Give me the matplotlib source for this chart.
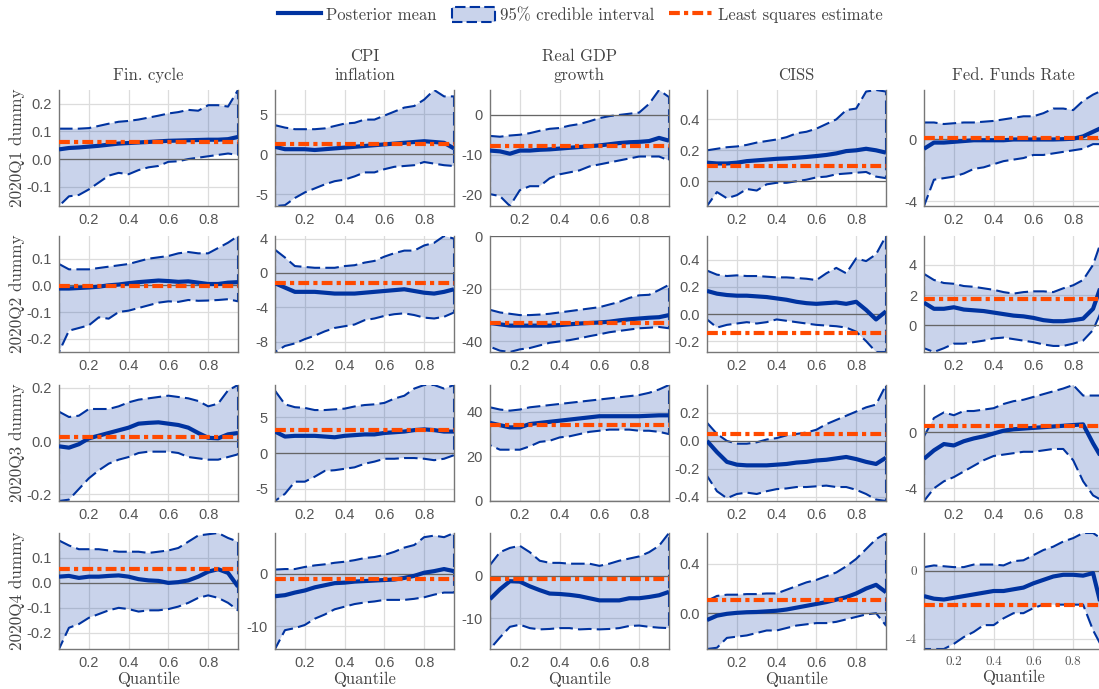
import numpy as np
import matplotlib
matplotlib.use('Agg')
import matplotlib.pyplot as plt
from matplotlib.lines import Line2D
from matplotlib.patches import Patch

quantiles = [0.05, 0.10, 0.15, 0.20, 0.25, 0.30, 0.35, 0.40, 0.45, 0.50,
             0.55, 0.60, 0.65, 0.70, 0.75, 0.80, 0.85, 0.90, 0.95]

titles = ['Fin. cycle', 'CPI\ninflation', 'Real GDP\ngrowth', 'CISS', 'Fed. Funds Rate']
rows = ['2020Q1 dummy', '2020Q2 dummy', '2020Q3 dummy', '2020Q4 dummy']

# Fin. cycle: posterior mean, 95% band, least squares (one list per quarter)
fin_mean = [
    [0.035, 0.04, 0.042, 0.045, 0.048, 0.052, 0.056, 0.058, 0.06, 0.062, 0.064, 0.066, 0.067, 0.068, 0.069, 0.07, 0.07, 0.072, 0.08],
    [-0.012, -0.012, -0.01, -0.008, -0.005, 0.0, 0.003, 0.008, 0.012, 0.015, 0.018, 0.016, 0.013, 0.015, 0.01, 0.005, 0.005, 0.01, 0.012],
    [-0.02, -0.025, -0.012, 0.01, 0.02, 0.03, 0.04, 0.05, 0.065, 0.068, 0.07, 0.065, 0.06, 0.05, 0.03, 0.012, 0.01, 0.025, 0.03],
    [0.025, 0.028, 0.02, 0.025, 0.025, 0.028, 0.03, 0.025, 0.015, 0.01, 0.008, 0.0, 0.003, 0.01, 0.025, 0.045, 0.055, 0.04, -0.015],
]
fin_hi = [
    [0.11, 0.11, 0.11, 0.112, 0.12, 0.128, 0.135, 0.138, 0.143, 0.15, 0.157, 0.165, 0.17, 0.178, 0.175, 0.195, 0.195, 0.19, 0.25],
    [0.08, 0.06, 0.06, 0.06, 0.065, 0.07, 0.075, 0.08, 0.09, 0.1, 0.105, 0.11, 0.12, 0.125, 0.12, 0.12, 0.14, 0.16, 0.185],
    [0.11, 0.09, 0.095, 0.12, 0.12, 0.12, 0.13, 0.145, 0.155, 0.16, 0.165, 0.17, 0.165, 0.16, 0.15, 0.13, 0.14, 0.19, 0.21],
    [0.17, 0.15, 0.135, 0.135, 0.135, 0.13, 0.125, 0.125, 0.125, 0.12, 0.125, 0.13, 0.14, 0.165, 0.19, 0.195, 0.2, 0.18, 0.165],
]
fin_lo = [
    [-0.17, -0.135, -0.13, -0.11, -0.085, -0.06, -0.05, -0.055, -0.04, -0.03, -0.025, -0.01, -0.008, 0.0, 0.005, 0.01, 0.015, 0.02, 0.015],
    [-0.25, -0.17, -0.16, -0.15, -0.12, -0.125, -0.1, -0.095, -0.085, -0.075, -0.065, -0.06, -0.062, -0.055, -0.058, -0.057, -0.055, -0.052, -0.06],
    [-0.225, -0.22, -0.18, -0.14, -0.11, -0.085, -0.07, -0.06, -0.045, -0.04, -0.04, -0.04, -0.045, -0.06, -0.065, -0.07, -0.07, -0.06, -0.05],
    [-0.265, -0.18, -0.165, -0.14, -0.125, -0.11, -0.1, -0.105, -0.115, -0.11, -0.11, -0.105, -0.095, -0.08, -0.06, -0.05, -0.06, -0.08, -0.11],
]
fin_ls = [0.063, -0.003, 0.015, 0.055]

cpi_mean = [
    [0.9, 0.6, 0.6, 0.6, 0.5, 0.6, 0.7, 0.8, 0.9, 1.0, 1.1, 1.2, 1.3, 1.4, 1.5, 1.6, 1.5, 1.4, 0.7],
    [-1.2, -1.7, -2.2, -2.2, -2.2, -2.3, -2.4, -2.4, -2.4, -2.3, -2.2, -2.1, -2.0, -1.9, -2.1, -2.3, -2.4, -2.2, -1.9],
    [3.0, 2.3, 2.4, 2.4, 2.4, 2.3, 2.2, 2.4, 2.5, 2.6, 2.6, 2.8, 2.9, 3.0, 3.2, 3.3, 3.2, 3.0, 3.0],
    [-4.3, -4.1, -3.6, -3.2, -2.6, -2.2, -1.8, -1.7, -1.5, -1.4, -1.3, -1.2, -1.1, -0.8, -0.4, 0.2, 0.5, 0.9, 0.5],
]
cpi_hi = [
    [3.6, 3.3, 3.1, 3.1, 3.1, 3.2, 3.5, 3.8, 3.9, 4.3, 4.3, 4.8, 5.3, 5.8, 6.0, 6.8, 8.0, 7.2, 7.2],
    [2.7, 1.8, 0.8, 0.7, 0.6, 0.6, 0.6, 0.8, 0.9, 1.2, 1.4, 1.9, 2.3, 2.6, 2.6, 3.2, 3.5, 4.3, 4.0],
    [8.7, 6.8, 6.4, 6.3, 6.0, 6.0, 6.1, 6.2, 6.5, 6.7, 6.8, 7.0, 7.6, 8.0, 9.0, 9.5, 9.5, 9.0, 9.5],
    [0.8, 0.9, 0.9, 1.3, 1.6, 1.8, 2.1, 2.3, 2.6, 3.0, 3.2, 3.6, 4.2, 5.0, 5.5, 7.0, 7.3, 7.0, 7.8],
]
cpi_lo = [
    [-6.5, -6.4, -5.5, -4.8, -4.3, -3.8, -3.4, -3.2, -2.8, -2.3, -2.3, -1.9, -1.6, -1.5, -1.4, -1.0, -1.2, -1.4, -1.5],
    [-9.2, -8.5, -8.2, -7.7, -7.3, -6.8, -6.4, -6.2, -6.0, -5.5, -5.3, -5.0, -4.8, -4.7, -4.9, -5.2, -5.3, -5.1, -4.6],
    [-6.7, -5.7, -4.0, -4.0, -3.3, -2.5, -2.4, -2.2, -2.0, -1.5, -1.2, -0.8, -0.8, -0.7, -0.7, -0.8, -1.0, -0.8, -0.3],
    [-14.4, -10.8, -10.4, -9.8, -8.6, -7.8, -6.8, -6.3, -5.8, -5.5, -5.3, -5.0, -5.0, -5.0, -4.8, -4.5, -4.0, -3.6, -3.6],
]
cpi_ls = [1.3, -1.2, 3.2, -1.0]

gdp_mean = [
    [-9.0, -9.2, -9.8, -9.0, -9.0, -8.8, -8.7, -8.5, -8.3, -8.1, -7.9, -7.7, -7.4, -7.1, -6.9, -6.8, -6.6, -5.8, -6.5],
    [-33, -33.5, -34, -34, -34, -34, -34, -33.8, -33.5, -33.2, -33, -32.8, -32.5, -32, -31.6, -31.3, -31, -30.8, -30],
    [35, 34, 33, 33, 34.5, 35, 35.5, 36, 36.5, 37, 37.5, 38, 38, 38, 38, 38, 38.2, 38.4, 38.4],
    [-5.5, -3.2, -1.3, -1.4, -2.5, -3.4, -4.2, -4.3, -4.5, -4.8, -5.3, -5.8, -5.8, -5.8, -5.3, -5.3, -5.0, -4.6, -3.8],
]
gdp_hi = [
    [-5.3, -5.5, -5.2, -5.0, -4.6, -4.0, -3.5, -3.3, -2.7, -2.3, -1.6, -0.8, -0.3, 0.0, 0.3, 0.6, 2.8, 6.3, 4.5],
    [-28, -29, -29.5, -30, -30, -29.8, -29.5, -29, -28.5, -28, -27.5, -27, -26, -25, -23.5, -22.5, -22.3, -20.5, -18.5],
    [42, 41, 40.5, 41, 42, 42.5, 43, 43.5, 44, 44.5, 45, 45.5, 46, 46.5, 47, 47.5, 48.5, 50, 52],
    [2.5, 5.5, 6.5, 7.0, 5.5, 3.5, 3.0, 3.0, 2.8, 2.8, 2.8, 2.3, 2.8, 3.5, 4.0, 4.5, 5.5, 7.0, 10.0],
]
gdp_lo = [
    [-20, -20.5, -23, -19, -18, -18, -16, -15, -14.5, -14, -13, -12.5, -12, -11.5, -11, -10.5, -10.5, -10.5, -11.5],
    [-42, -43.5, -44, -43, -42.5, -41.5, -40.5, -40, -39.5, -38.8, -38, -37.3, -36.5, -36, -35.5, -35, -34.8, -34.5, -35],
    [25, 23, 23, 23, 24.5, 26.5, 27, 28.5, 29, 30, 31, 31.5, 32, 32, 32, 31.5, 31.5, 31, 30],
    [-17.2, -14.5, -12.0, -11.5, -12.3, -12.6, -12.5, -12.3, -12.3, -12.6, -12.5, -12.6, -12.5, -12.3, -11.8, -11.7, -12.0, -12.2, -12.3],
]
gdp_ls = [-7.8, -33, 34, -0.8]

ciss_mean = [
    [0.12, 0.115, 0.115, 0.12, 0.13, 0.135, 0.14, 0.145, 0.148, 0.152, 0.157, 0.163, 0.17, 0.18, 0.195, 0.2, 0.21, 0.2, 0.185],
    [0.17, 0.15, 0.14, 0.135, 0.135, 0.13, 0.125, 0.115, 0.105, 0.09, 0.08, 0.075, 0.08, 0.085, 0.075, 0.09, 0.03, -0.04, 0.02],
    [0.0, -0.08, -0.15, -0.17, -0.175, -0.175, -0.175, -0.17, -0.165, -0.155, -0.15, -0.14, -0.135, -0.125, -0.115, -0.13, -0.15, -0.165, -0.12],
    [-0.055, -0.02, -0.005, 0.003, 0.008, 0.01, 0.015, 0.02, 0.03, 0.045, 0.06, 0.075, 0.09, 0.11, 0.13, 0.16, 0.2, 0.23, 0.17],
]
ciss_hi = [
    [0.2, 0.21, 0.22, 0.225, 0.235, 0.25, 0.26, 0.27, 0.285, 0.31, 0.32, 0.34, 0.37, 0.4, 0.46, 0.47, 0.58, 0.59, 0.58],
    [0.32, 0.29, 0.28, 0.285, 0.28, 0.28, 0.275, 0.27, 0.27, 0.265, 0.26, 0.25, 0.3, 0.34, 0.3, 0.41, 0.39, 0.44, 0.575],
    [0.13, 0.05, 0.0, -0.02, -0.02, -0.01, 0.01, 0.02, 0.04, 0.05, 0.06, 0.08, 0.12, 0.15, 0.18, 0.21, 0.24, 0.26, 0.4],
    [0.1, 0.14, 0.15, 0.15, 0.155, 0.155, 0.16, 0.16, 0.19, 0.22, 0.25, 0.27, 0.3, 0.33, 0.38, 0.44, 0.52, 0.6, 0.65],
]
ciss_lo = [
    [-0.16, -0.07, -0.11, -0.09, -0.05, -0.06, -0.02, -0.01, -0.01, 0.0, 0.01, 0.025, 0.03, 0.045, 0.05, 0.055, 0.06, 0.03, 0.02],
    [-0.04, -0.1, -0.08, -0.07, -0.06, -0.07, -0.06, -0.04, -0.05, -0.06, -0.07, -0.08, -0.085, -0.09, -0.1, -0.13, -0.2, -0.28, -0.28],
    [-0.25, -0.36, -0.41, -0.38, -0.37, -0.38, -0.36, -0.345, -0.34, -0.33, -0.33, -0.325, -0.32, -0.33, -0.33, -0.35, -0.38, -0.42, -0.43],
    [-0.29, -0.28, -0.2, -0.19, -0.18, -0.16, -0.14, -0.14, -0.12, -0.1, -0.09, -0.08, -0.08, -0.07, -0.05, -0.03, -0.01, 0.0, -0.1],
]
ciss_ls = [0.1, -0.14, 0.05, 0.11]

ffr_mean = [
    [-0.6, -0.2, -0.2, -0.15, -0.1, -0.05, -0.05, -0.05, -0.05, 0.0, 0.0, 0.0, 0.0, 0.0, 0.02, 0.05, 0.2, 0.5, 0.8],
    [1.5, 1.1, 1.1, 1.2, 1.05, 1.0, 0.95, 0.85, 0.75, 0.65, 0.6, 0.5, 0.35, 0.28, 0.28, 0.35, 0.45, 1.1, 3.0],
    [-1.9, -1.3, -0.85, -0.95, -0.65, -0.45, -0.3, -0.1, 0.1, 0.2, 0.25, 0.3, 0.35, 0.4, 0.45, 0.5, 0.55, -0.8, -2.0],
    [-1.5, -1.65, -1.7, -1.6, -1.5, -1.4, -1.3, -1.2, -1.2, -1.1, -1.0, -0.75, -0.55, -0.35, -0.25, -0.25, -0.3, -0.15, -2.5],
]
ffr_hi = [
    [1.1, 1.1, 1.0, 1.05, 1.1, 1.1, 1.15, 1.2, 1.3, 1.4, 1.5, 1.5, 1.7, 2.0, 2.0, 1.9, 2.5, 2.9, 3.2],
    [3.4, 3.0, 2.8, 2.75, 2.6, 2.55, 2.45, 2.35, 2.2, 2.1, 2.2, 2.25, 2.25, 2.2, 2.45, 2.65, 3.0, 4.0, 5.9],
    [-0.3, 1.0, 1.4, 1.2, 1.5, 1.5, 1.6, 1.7, 2.0, 2.2, 2.3, 2.5, 2.7, 2.9, 3.1, 3.35, 2.6, 2.6, 2.6],
    [0.2, 0.3, 0.25, 0.2, 0.2, 0.35, 0.35, 0.35, 0.3, 0.55, 0.6, 0.9, 1.2, 1.4, 1.7, 1.9, 2.2, 2.2, 1.8],
]
ffr_lo = [
    [-4.3, -2.6, -2.5, -2.4, -2.2, -1.9, -1.8, -1.6, -1.4, -1.3, -1.2, -1.0, -1.0, -0.9, -0.8, -0.7, -0.6, -0.3, -0.3],
    [-1.5, -1.75, -1.5, -1.2, -1.2, -1.1, -1.0, -0.85, -0.8, -0.9, -1.0, -1.1, -1.25, -1.35, -1.35, -1.2, -1.0, -0.3, 1.2],
    [-4.9, -4.0, -3.5, -3.2, -2.8, -2.4, -2.0, -1.7, -1.6, -1.5, -1.4, -1.4, -1.3, -1.2, -1.2, -2.0, -3.5, -4.5, -4.9],
    [-4.6, -4.6, -4.6, -4.3, -3.9, -3.6, -3.2, -3.2, -2.8, -2.5, -2.5, -2.2, -2.0, -2.0, -2.0, -2.0, -2.0, -3.5, -4.6],
]
ffr_ls = [0.1, 1.75, 0.4, -2.0]

# y tick positions, row by row
yticks = [
    [[-0.1, 0, 0.1, 0.2], [-5, 0, 5], [-20, -10, 0], [0, 0.2, 0.4], [-4, 0]],
    [[-0.2, -0.1, 0, 0.1], [-8, -4, 0, 4], [-40, -20, 0], [-0.2, 0, 0.2, 0.4], [0, 2, 4]],
    [[-0.2, 0, 0.2], [-5, 0, 5], [0, 20, 40], [-0.4, -0.2, 0, 0.2], [-4, 0]],
    [[-0.2, -0.1, 0, 0.1], [-10, 0], [-10, 0], [0, 0.4], [-4, 0]],
]
xticks = [0.2, 0.4, 0.6, 0.8]

cols = [
    (fin_mean, fin_lo, fin_hi, fin_ls),
    (cpi_mean, cpi_lo, cpi_hi, cpi_ls),
    (gdp_mean, gdp_lo, gdp_hi, gdp_ls),
    (ciss_mean, ciss_lo, ciss_hi, ciss_ls),
    (ffr_mean, ffr_lo, ffr_hi, ffr_ls),
]

blue = '#0033a0'
orange = '#ff4a00'
serif = ['cmr10', 'DejaVu Serif']
plt.rcParams['font.family'] = ['Liberation Sans', 'DejaVu Sans']
plt.rcParams['axes.unicode_minus'] = False

W, H = 1099, 689
fig = plt.figure(figsize=(W / 100, H / 100), dpi=100)

left_px = [59, 275, 490, 707, 924]
top_px = [90, 236, 385, 533]
aw, ah = 179, 116

q = np.array(quantiles)
for r in range(4):
    for c in range(5):
        mean, lo, hi, ls = cols[c]
        m, l, h = np.array(mean[r]), np.array(lo[r]), np.array(hi[r])
        ax = fig.add_axes([left_px[c] / W, 1 - (top_px[r] + ah) / H, aw / W, ah / H])

        # band polygon, outlined with a dashed edge all the way round
        xs = np.concatenate([q, q[::-1], q[:1]])
        ys = np.concatenate([h, l[::-1], h[:1]])
        ax.fill(xs, ys, facecolor=(0.0, 0.2, 0.63, 0.21), edgecolor='none', zorder=1)
        ax.plot(xs, ys, color=blue, lw=1.5, ls=(0, (6.5, 2.5)), zorder=2)
        ax.axhline(0, color='#666666', lw=0.9, zorder=2)
        ax.plot(q, m, color=blue, lw=3.0, solid_capstyle='butt', zorder=3)
        ax.axhline(ls[r], color=orange, lw=3.0, dashes=(2.6, 1.0, 1.0, 1.0), zorder=4)

        ax.set_xlim(0.05, 0.95)
        ax.set_ylim(min(l.min(), 0), max(h.max(), 0))
        ax.set_xticks(xticks)
        ax.set_yticks(yticks[r][c])
        ax.set_xticklabels([f'{t:.1f}' for t in xticks])
        if c in (0, 3):
            ax.set_yticklabels([f'{t:.1f}' for t in yticks[r][c]])
        else:
            ax.set_yticklabels([f'{t:g}' for t in yticks[r][c]])
        ax.grid(True, color='#dcdcdc', lw=0.9, zorder=0)
        ax.set_axisbelow(True)
        ax.tick_params(length=0, labelsize=10.5, labelcolor='#555555', pad=5)
        if r == 3 and c == 4:
            for lab in ax.get_xticklabels() + ax.get_yticklabels():
                lab.set_family(serif)
                lab.set_fontsize(9.5)
        ax.spines['top'].set_visible(False)
        for s in ('left', 'bottom', 'right'):
            ax.spines[s].set_color('#777777')
            ax.spines[s].set_linewidth(1.0)

        if r == 0:
            ax.set_title(titles[c], family=serif, fontsize=12, color='#444444',
                         pad=7, linespacing=1.35)
        if c == 0:
            ax.set_ylabel(rows[r], family=serif, fontsize=12.3, color='#444444')
            ax.yaxis.set_label_coords(-0.19, 0.5)
        if r == 3:
            ax.set_xlabel('Quantile', family=serif, fontsize=12, color='#444444', labelpad=1)

handles = [
    Line2D([], [], color=blue, lw=3.0),
    Patch(facecolor=(0.0, 0.2, 0.63, 0.21), edgecolor=blue, lw=1.5, ls=(0, (5, 2))),
    Line2D([], [], color=orange, lw=3.0, dashes=(2.6, 1.0, 1.0, 1.0)),
]
labels = ['Posterior mean', '95% credible interval', 'Least squares estimate']
fig.legend(handles, labels, loc='upper center', bbox_to_anchor=(0.528, 1.012), ncol=3,
           frameon=False, prop={'family': serif, 'size': 12}, labelcolor='#444444',
           handlelength=2.6, handleheight=1.0, handletextpad=0.3, columnspacing=0.9)

fig.savefig('out.png', dpi=100)
